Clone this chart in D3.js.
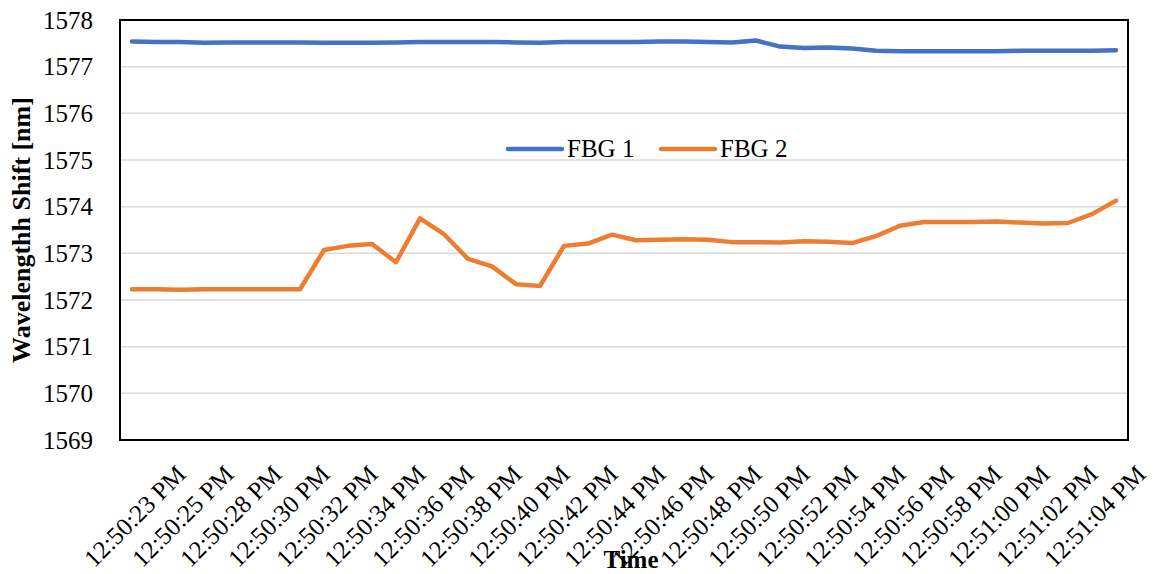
<!DOCTYPE html>
<html>
<head>
<meta charset="utf-8">
<script src="https://cdn.jsdelivr.net/npm/d3@7"></script>
<style>
  html, body { margin: 0; padding: 0; background: #fff; }
  svg { display: block; font-family: "Liberation Serif", "Times New Roman", serif; }
</style>
</head>
<body>
<svg id="chart" width="1158" height="574"></svg>
<script>
// Wavelength readings of two FBG sensors, one sample per category
const fbg1 = [
  1577.54, 1577.53, 1577.53, 1577.51, 1577.52, 1577.52, 1577.52, 1577.52,
  1577.51, 1577.51, 1577.51, 1577.52, 1577.53, 1577.53, 1577.53, 1577.53,
  1577.52, 1577.51, 1577.53, 1577.53, 1577.53, 1577.53, 1577.54, 1577.54,
  1577.53, 1577.52, 1577.56, 1577.43, 1577.40, 1577.41, 1577.39, 1577.34,
  1577.33, 1577.33, 1577.33, 1577.33, 1577.33, 1577.34, 1577.34, 1577.34,
  1577.34, 1577.35
];
const fbg2 = [
  1572.23, 1572.23, 1572.22, 1572.23, 1572.23, 1572.23, 1572.23, 1572.23,
  1573.07, 1573.16, 1573.20, 1572.81, 1573.75, 1573.41, 1572.88, 1572.72,
  1572.34, 1572.30, 1573.16, 1573.21, 1573.40, 1573.28, 1573.29, 1573.30,
  1573.29, 1573.24, 1573.24, 1573.23, 1573.26, 1573.25, 1573.22, 1573.37,
  1573.59, 1573.67, 1573.67, 1573.67, 1573.68, 1573.66, 1573.64, 1573.65,
  1573.84, 1574.13
];
// Time labels shown on every second sample
const tickLabels = [
  "12:50:23 PM", "12:50:25 PM", "12:50:28 PM", "12:50:30 PM", "12:50:32 PM",
  "12:50:34 PM", "12:50:36 PM", "12:50:38 PM", "12:50:40 PM", "12:50:42 PM",
  "12:50:44 PM", "12:50:46 PM", "12:50:48 PM", "12:50:50 PM", "12:50:52 PM",
  "12:50:54 PM", "12:50:56 PM", "12:50:58 PM", "12:51:00 PM", "12:51:02 PM",
  "12:51:04 PM"
];
const yTicks = [1569, 1570, 1571, 1572, 1573, 1574, 1575, 1576, 1577, 1578];
const seriesNames = ["FBG 1", "FBG 2"];
const colors = ["#4472C4", "#ED7D31"];

const svg = d3.select("#chart");
const plot = { left: 120, right: 1128, top: 20, bottom: 440 };
const fontSize = 25;

const x = d3.scalePoint()
  .domain(d3.range(fbg1.length))
  .range([plot.left, plot.right])
  .padding(0.5);
const y = d3.scaleLinear().domain([1569, 1578]).range([plot.bottom, plot.top]);

// horizontal gridlines
svg.append("g")
  .selectAll("line")
  .data(yTicks.slice(1, -1))
  .join("line")
  .attr("x1", plot.left).attr("x2", plot.right)
  .attr("y1", d => y(d)).attr("y2", d => y(d))
  .attr("stroke", "#d9d9d9").attr("stroke-width", 1.5);

// y axis labels
const yAxis = svg.append("g")
  .attr("transform", `translate(${plot.left},0)`)
  .call(d3.axisLeft(y).tickValues(yTicks).tickFormat(d3.format("d")).tickSize(0).tickPadding(27));
yAxis.select(".domain").remove();
yAxis.selectAll("text")
  .attr("font-size", fontSize)
  .attr("font-family", "Liberation Serif, Times New Roman, serif")
  .attr("fill", "#000");

// x axis labels, rotated
const xAxis = svg.append("g")
  .attr("transform", `translate(0,${plot.bottom})`)
  .call(d3.axisBottom(x)
    .tickValues(d3.range(0, fbg1.length, 2))
    .tickFormat(i => tickLabels[i / 2])
    .tickSize(0));
xAxis.select(".domain").remove();
xAxis.selectAll("text")
  .attr("font-size", fontSize)
  .attr("font-family", "Liberation Serif, Times New Roman, serif")
  .attr("fill", "#000")
  .attr("text-anchor", "middle")
  .attr("y", 0)
  .attr("dy", "0.35em")
  .attr("transform", "translate(2,76) rotate(-45)");

// series lines
const line = d3.line()
  .x((d, i) => x(i))
  .y(d => y(d));
[fbg1, fbg2].forEach((values, k) => {
  svg.append("path")
    .datum(values)
    .attr("d", line)
    .attr("fill", "none")
    .attr("stroke", colors[k])
    .attr("stroke-width", 4.5)
    .attr("stroke-linejoin", "round")
    .attr("stroke-linecap", "round");
});

// plot area frame
svg.append("rect")
  .attr("x", plot.left).attr("y", plot.top)
  .attr("width", plot.right - plot.left).attr("height", plot.bottom - plot.top)
  .attr("fill", "none").attr("stroke", "#000").attr("stroke-width", 2);

// legend
const legendPos = [{ x: 508, tx: 567 }, { x: 661, tx: 720 }];
const legend = svg.append("g");
seriesNames.forEach((name, k) => {
  legend.append("line")
    .attr("x1", legendPos[k].x).attr("x2", legendPos[k].x + 54)
    .attr("y1", 149).attr("y2", 149)
    .attr("stroke", colors[k]).attr("stroke-width", 4.5)
    .attr("stroke-linecap", "round");
  legend.append("text")
    .attr("x", legendPos[k].tx).attr("y", 157)
    .attr("font-size", fontSize)
    .text(name);
});

// axis titles
svg.append("text")
  .attr("transform", `translate(30,${(plot.top + plot.bottom) / 2}) rotate(-90)`)
  .attr("text-anchor", "middle")
  .attr("font-size", 26)
  .attr("font-weight", "bold")
  .text("Wavelengthh Shift [nm]");
svg.append("text")
  .attr("x", 631).attr("y", 568)
  .attr("text-anchor", "middle")
  .attr("font-size", fontSize)
  .attr("font-weight", "bold")
  .text("Time");
</script>
</body>
</html>
